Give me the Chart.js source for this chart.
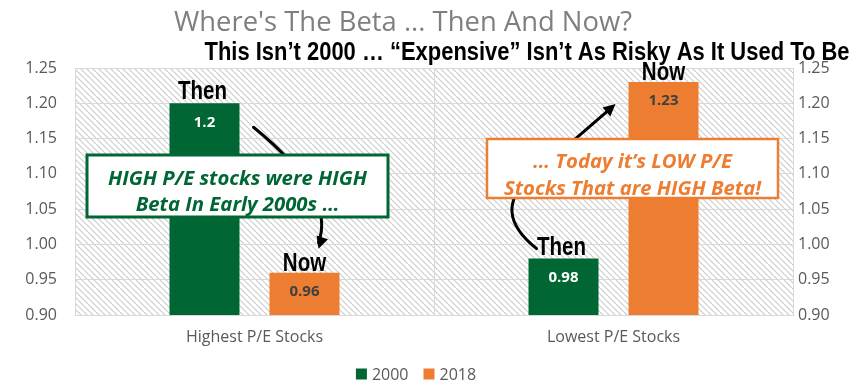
<!DOCTYPE html>
<html><head><meta charset="utf-8">
<script src="https://cdn.jsdelivr.net/npm/chart.js@4"></script>
<style>html,body{margin:0;padding:0;background:#fff}#wrap{width:858px;height:382px;position:relative}</style>
</head><body><div id="wrap"><canvas id="c" width="858" height="382"></canvas></div>
<script>
const categories = ['Highest P/E Stocks', 'Lowest P/E Stocks'];
const seriesNames = ['2000', '2018'];
const values2000 = [1.20, 0.98];
const values2018 = [0.96, 1.23];
const valueLabels2000 = ['1.2', '0.98'];
const valueLabels2018 = ['0.96', '1.23'];
const barNotes2000 = ['Then', 'Then'];
const barNotes2018 = ['Now', 'Now'];
const yTicks = [0.90, 0.95, 1.00, 1.05, 1.10, 1.15, 1.20, 1.25];
const titleText = "Where's The Beta ... Then And Now?";
const subtitleText = 'This Isn\u2019t 2000 \u2026 \u201cExpensive\u201d Isn\u2019t As Risky As It Used To Be';
const boxTextGreen = ['HIGH P/E stocks were HIGH', 'Beta In Early 2000s \u2026'];
const boxTextOrange = ['\u2026 Today it\u2019s LOW P/E', 'Stocks That are HIGH Beta!'];

const GREEN = '#006633';
const ORANGE = '#ED7D31';

function fitText(ctx, text, x, y, font, targetW, color) {
  ctx.save();
  ctx.font = font;
  const w = ctx.measureText(text).width;
  const sx = targetW ? targetW / w : 1;
  ctx.translate(x, y);
  ctx.scale(sx, 1);
  ctx.textAlign = 'center';
  ctx.textBaseline = 'alphabetic';
  ctx.fillStyle = color;
  ctx.fillText(text, 0, 0);
  ctx.restore();
  return sx;
}
function scaledText(ctx, text, x, y, font, sx, color) {
  ctx.save();
  ctx.font = font;
  ctx.translate(x, y);
  ctx.scale(sx, 1);
  ctx.textAlign = 'center';
  ctx.textBaseline = 'alphabetic';
  ctx.fillStyle = color;
  ctx.fillText(text, 0, 0);
  ctx.restore();
}
function arrowHead(ctx, tx, ty, dx, dy, size) {
  const len = Math.hypot(dx, dy);
  const ux = dx / len, uy = dy / len;
  const px = -uy, py = ux;
  ctx.beginPath();
  ctx.moveTo(tx, ty);
  ctx.lineTo(tx - ux * size + px * size * 0.5, ty - uy * size + py * size * 0.5);
  ctx.lineTo(tx - ux * size - px * size * 0.5, ty - uy * size - py * size * 0.5);
  ctx.closePath();
  ctx.fill();
}

const hatchPlugin = {
  id: 'hatch',
  beforeDraw(chart) {
    const {ctx, chartArea: a} = chart;
    const s = 6;
    const pc = document.createElement('canvas');
    pc.width = s; pc.height = s;
    const p = pc.getContext('2d');
    p.strokeStyle = '#cccccc';
    p.lineWidth = 1.2;
    for (const k of [-s, 0, s]) {
      p.beginPath(); p.moveTo(k, 0); p.lineTo(k + s, s); p.stroke();
    }
    ctx.save();
    ctx.fillStyle = ctx.createPattern(pc, 'repeat');
    ctx.fillRect(a.left, a.top, a.right - a.left, a.bottom - a.top);
    ctx.restore();
  }
};

const notesPlugin = {
  id: 'notes',
  afterDatasetsDraw(chart) {
    const ctx = chart.ctx;
    const g = chart.getDatasetMeta(0).data;
    const o = chart.getDatasetMeta(1).data;
    const a = chart.chartArea;

    // arrows
    ctx.save();
    ctx.strokeStyle = '#000'; ctx.fillStyle = '#000'; ctx.lineWidth = 3; ctx.lineCap = 'round';
    const s1 = {x: g[0].x + 49, y: g[0].y + 24};
    const c1 = {x: o[0].x + 32, y: o[0].y - 78};
    const e1 = {x: o[0].x + 14, y: o[0].y - 24};
    ctx.beginPath(); ctx.moveTo(s1.x, s1.y); ctx.quadraticCurveTo(c1.x, c1.y, e1.x, e1.y - 6); ctx.stroke();
    arrowHead(ctx, e1.x, e1.y, e1.x - c1.x, e1.y - c1.y, 12);
    const s2 = {x: g[1].x - 27, y: g[1].y - 10};
    const c2 = {x: g[1].x - 73, y: g[1].y - 47};
    const m2 = {x: g[1].x - 33, y: g[1].y - 81};
    const e2 = {x: o[1].x - 48, y: o[1].y + 22};
    ctx.beginPath(); ctx.moveTo(s2.x, s2.y); ctx.quadraticCurveTo(c2.x, c2.y, m2.x, m2.y);
    const dx2 = e2.x - m2.x, dy2 = e2.y - m2.y, l2 = Math.hypot(dx2, dy2);
    ctx.lineTo(e2.x - dx2 / l2 * 6, e2.y - dy2 / l2 * 6); ctx.stroke();
    arrowHead(ctx, e2.x, e2.y, dx2, dy2, 12);
    ctx.restore();

    // boxes
    ctx.save();
    const gb = {x: a.left + 12, y: 155, w: 301, h: 62};
    ctx.fillStyle = '#fff'; ctx.fillRect(gb.x, gb.y, gb.w, gb.h);
    ctx.strokeStyle = GREEN; ctx.lineWidth = 3; ctx.strokeRect(gb.x, gb.y, gb.w, gb.h);
    const sxg = fitText(ctx, boxTextGreen[0], gb.x + gb.w / 2, 185, 'italic bold 19px "Open Sans"', 259, GREEN);
    scaledText(ctx, boxTextGreen[1], gb.x + gb.w / 2, 211, 'italic bold 19px "Open Sans"', sxg, GREEN);

    const ob = {x: 487, y: 139, w: 291, h: 59};
    ctx.fillStyle = '#fff'; ctx.fillRect(ob.x, ob.y, ob.w, ob.h);
    ctx.strokeStyle = ORANGE; ctx.lineWidth = 2.5; ctx.strokeRect(ob.x, ob.y, ob.w, ob.h);
    const sxo = fitText(ctx, boxTextOrange[1], ob.x + ob.w / 2, 195, 'italic bold 19px "Open Sans"', 257, ORANGE);
    scaledText(ctx, boxTextOrange[0], ob.x + ob.w / 2, 168, 'italic bold 19px "Open Sans"', sxo, ORANGE);
    ctx.restore();

    // value labels and Then/Now notes
    ctx.save();
    ctx.textAlign = 'center'; ctx.textBaseline = 'middle';
    ctx.font = 'bold 15px "Open Sans"';
    g.forEach((b, i) => { ctx.fillStyle = '#fff'; ctx.fillText(valueLabels2000[i], b.x, b.y + 19); });
    o.forEach((b, i) => { ctx.fillStyle = '#404040'; ctx.fillText(valueLabels2018[i], b.x, b.y + 19); });
    ctx.restore();
    g.forEach((b, i) => scaledText(ctx, barNotes2000[i], b.x - 2, b.y - 4, 'bold 25px "Liberation Sans"', 0.82, '#000'));
    o.forEach((b, i) => scaledText(ctx, barNotes2018[i], b.x, b.y - 2, 'bold 25px "Liberation Sans"', 0.82, '#000'));
  },
  afterDraw(chart) {
    const ctx = chart.ctx;
    fitText(ctx, titleText, 403, 31, '27px "Open Sans"', 458, '#7f7f7f');
    fitText(ctx, subtitleText, 527, 60, 'bold 25px "Liberation Sans"', 645, '#000');

    // legend (from dataset labels / colours)
    ctx.save();
    ctx.font = '16px "Open Sans"';
    ctx.textBaseline = 'middle';
    ctx.textAlign = 'left';
    const ds = chart.data.datasets;
    const box = 11, gapText = 5, gapItem = 15;
    const widths = ds.map(d => box + gapText + ctx.measureText(d.label).width);
    const total = widths.reduce((s, w) => s + w, 0) + gapItem * (ds.length - 1);
    let x = 416 - total / 2;
    const cy = 374;
    ds.forEach((d, i) => {
      ctx.fillStyle = d.backgroundColor;
      ctx.fillRect(x, cy - box / 2, box, box);
      ctx.fillStyle = '#595959';
      ctx.fillText(d.label, x + box + gapText, cy + 1);
      x += widths[i] + gapItem;
    });
    ctx.restore();
  }
};

const yTickSetter = s => { s.ticks = yTicks.map(v => ({value: v})); };

new Chart(document.getElementById('c'), {
  type: 'bar',
  data: {
    labels: categories,
    datasets: [
      {label: seriesNames[0], data: values2000, backgroundColor: GREEN, yAxisID: 'y'},
      {label: seriesNames[1], data: values2018, backgroundColor: ORANGE, yAxisID: 'y'}
    ]
  },
  options: {
    responsive: false,
    animation: false,
    devicePixelRatio: 1,
    categoryPercentage: 0.557,
    barPercentage: 0.7,
    layout: {padding: {top: 68, left: 0, right: 0, bottom: 0}},
    plugins: {
      tooltip: {enabled: false},
      legend: {display: false}
    },
    scales: {
      x: {
        grid: {offset: true, color: '#d9d9d9', drawTicks: false},
        border: {color: '#d9d9d9'},
        ticks: {color: '#595959', font: {family: 'Open Sans', size: 16}, padding: 13},
        afterFit(s) { s.height = 67; }
      },
      y: {
        position: 'left', min: 0.9, max: 1.25,
        afterBuildTicks: yTickSetter,
        ticks: {callback: v => v.toFixed(2), color: '#595959', font: {family: 'Open Sans', size: 16}, padding: 18},
        grid: {color: '#d9d9d9', drawTicks: false},
        border: {color: '#d9d9d9'},
        afterFit(s) { s.width = 75; }
      },
      y1: {
        position: 'right', min: 0.9, max: 1.25,
        afterBuildTicks: yTickSetter,
        ticks: {callback: v => v.toFixed(2), color: '#595959', font: {family: 'Open Sans', size: 16}, padding: 5},
        grid: {display: false, drawTicks: false},
        border: {color: '#d9d9d9'},
        afterFit(s) { s.width = 65; }
      }
    }
  },
  plugins: [hatchPlugin, notesPlugin]
});
</script>
</body></html>
